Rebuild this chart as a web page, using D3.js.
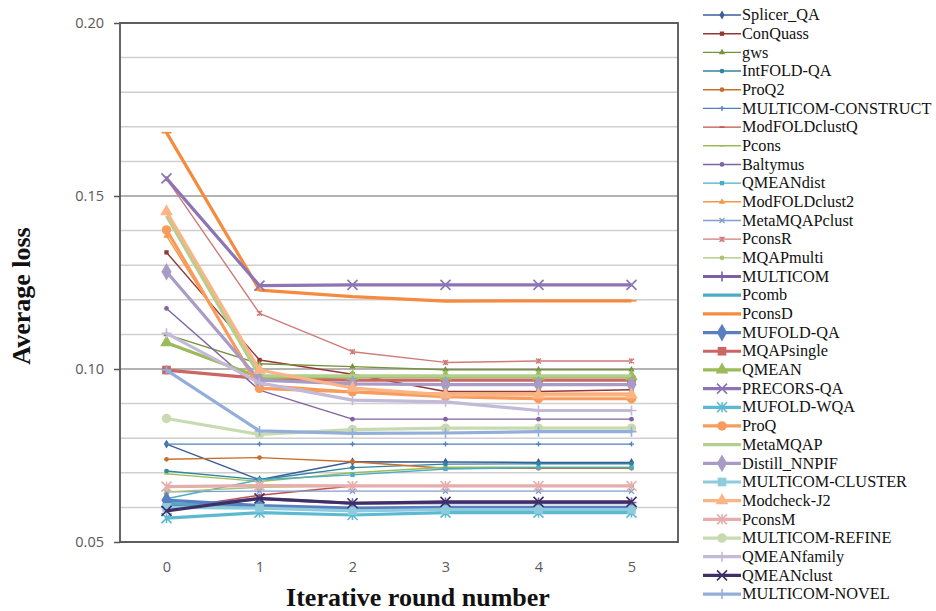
<!DOCTYPE html>
<meta charset="utf-8">
<style>
  body { margin: 0; padding: 0; background: white; }
  svg { background: white; }
  .legend text { font-family: "Liberation Serif", "Times New Roman", serif; font-size: 16.3px; fill: #111; }
  .tick text { font-family: "Open Sans", sans-serif; font-size: 14.5px; fill: #595959; }
  .title { font-family: "Liberation Serif", "Times New Roman", serif; font-size: 26px; font-weight: bold; fill: #111; }
</style>
<script src="https://cdn.jsdelivr.net/npm/d3@7"></script>
<svg id="vis"></svg>
<script>

var width = 936, height = 611;

// rounds on the x axis
const rounds = [0, 1, 2, 3, 4, 5];

// method names, in legend order
const names = ['Splicer_QA','ConQuass','gws','IntFOLD-QA','ProQ2','MULTICOM-CONSTRUCT','ModFOLDclustQ','Pcons',
  'Baltymus','QMEANdist','ModFOLDclust2','MetaMQAPclust','PconsR','MQAPmulti','MULTICOM','Pcomb','PconsD',
  'MUFOLD-QA','MQAPsingle','QMEAN','PRECORS-QA','MUFOLD-WQA','ProQ','MetaMQAP','Distill_NNPIF',
  'MULTICOM-CLUSTER','Modcheck-J2','PconsM','MULTICOM-REFINE','QMEANfamily','QMEANclust','MULTICOM-NOVEL'];

// average loss per round
const losses = [
  [0.0783, 0.0680, 0.0732, 0.0731, 0.0730, 0.0730], // Splicer_QA
  [0.1337, 0.1026, 0.0985, 0.0935, 0.0935, 0.0940], // ConQuass
  [0.1100, 0.1015, 0.1007, 0.0998, 0.0998, 0.0998], // gws
  [0.0705, 0.0680, 0.0715, 0.0725, 0.0726, 0.0726], // IntFOLD-QA
  [0.0739, 0.0744, 0.0732, 0.0713, 0.0713, 0.0713], // ProQ2
  [0.0783, 0.0783, 0.0783, 0.0783, 0.0783, 0.0783], // MULTICOM-CONSTRUCT
  [0.0595, 0.0635, 0.0662, 0.0662, 0.0662, 0.0662], // ModFOLDclustQ
  [0.0697, 0.0675, 0.0700, 0.0716, 0.0716, 0.0716], // Pcons
  [0.1175, 0.0939, 0.0855, 0.0855, 0.0855, 0.0855], // Baltymus
  [0.0625, 0.0680, 0.0694, 0.0711, 0.0715, 0.0715], // QMEANdist
  [0.1385, 0.0955, 0.0935, 0.0930, 0.0930, 0.0930], // ModFOLDclust2
  [0.0645, 0.0647, 0.0647, 0.0647, 0.0647, 0.0647], // MetaMQAPclust
  [0.1550, 0.1161, 0.1050, 0.1019, 0.1023, 0.1023], // PconsR
  [0.0645, 0.0658, 0.0662, 0.0662, 0.0662, 0.0662], // MQAPmulti
  [0.0600, 0.0625, 0.0612, 0.0614, 0.0614, 0.0614], // MULTICOM
  [0.0612, 0.0600, 0.0594, 0.0597, 0.0597, 0.0597], // Pcomb
  [0.1683, 0.1228, 0.1209, 0.1196, 0.1197, 0.1197], // PconsD
  [0.0621, 0.0605, 0.0598, 0.0600, 0.0600, 0.0600], // MUFOLD-QA
  [0.0997, 0.0973, 0.0968, 0.0968, 0.0968, 0.0968], // MQAPsingle
  [0.1076, 0.0976, 0.0978, 0.0978, 0.0978, 0.0978], // QMEAN
  [0.1551, 0.1241, 0.1243, 0.1243, 0.1243, 0.1243], // PRECORS-QA
  [0.0569, 0.0585, 0.0578, 0.0585, 0.0585, 0.0585], // MUFOLD-WQA
  [0.1402, 0.0944, 0.0934, 0.0920, 0.0914, 0.0914], // ProQ
  [0.1442, 0.0980, 0.0980, 0.0980, 0.0980, 0.0980], // MetaMQAP
  [0.1281, 0.0968, 0.0957, 0.0955, 0.0955, 0.0955], // Distill_NNPIF
  [0.0600, 0.0598, 0.0590, 0.0594, 0.0594, 0.0594], // MULTICOM-CLUSTER
  [0.1455, 0.0997, 0.0945, 0.0925, 0.0925, 0.0925], // Modcheck-J2
  [0.0660, 0.0663, 0.0662, 0.0662, 0.0662, 0.0662], // PconsM
  [0.0857, 0.0811, 0.0825, 0.0829, 0.0829, 0.0829], // MULTICOM-REFINE
  [0.1103, 0.0960, 0.0910, 0.0905, 0.0880, 0.0880], // QMEANfamily
  [0.0590, 0.0626, 0.0612, 0.0616, 0.0616, 0.0616], // QMEANclust
  [0.0997, 0.0821, 0.0814, 0.0815, 0.0819, 0.0819]  // MULTICOM-NOVEL
];

const yTicks = [0.05, 0.10, 0.15, 0.20];

// styles
const colors = ['#3b5e9a','#943634','#76923c','#31859c','#c96e2b','#4f81bd','#c0504d','#9bbb59',
  '#8064a2','#4bacc6','#f79646','#7f9fcf','#cf7b79','#a9c574','#7c5fa6','#4bacc6','#f58b3f',
  '#5a7fc0','#cc6662','#9bbb59','#8c74b5','#5cb9d2','#f99b5b','#b1cf8d','#a89bc6',
  '#8ecbdd','#fbb486','#e5aead','#c8dab0','#c3b9d8','#3e2f66','#94aedb'];
const marks = ['diamond','square','triangle','circle','circle','plus','dash','dash',
  'circle','square','triangle','x','asterisk','circle','plus','none','dash',
  'diamond','square','triangle','x','asterisk','circle','none','diamond',
  'square','triangle','asterisk','circle','plus','x','plus'];

var svg = d3.select("svg").attr("width", width).attr("height", height);

var x = d3.scalePoint().domain(rounds).range([120, 678]).padding(0.5);
var y = d3.scaleLinear().domain([0.05, 0.20]).range([542, 23]);

// gridlines every 0.01
var grid = d3.range(5, 21).map(d => d / 100);
svg.append("g").selectAll("line")
  .data(grid)
  .enter().append("line")
    .attr("x1", 120).attr("x2", 678)
    .attr("y1", d => y(d)).attr("y2", d => y(d))
    .attr("stroke", (d, i) => i % 5 == 0 ? "#9a9a9a" : "#cfcfcf")
    .attr("stroke-width", 1.5);

// y axis
var yAxis = svg.append("g")
  .attr("transform", "translate(120,0)")
  .call(d3.axisLeft(y).tickValues(yTicks).tickFormat(d3.format(".2f")).tickSize(6).tickPadding(10));
yAxis.select(".domain").remove();
yAxis.selectAll(".tick line").attr("stroke", "#555").attr("stroke-width", 1.5);

// x axis labels
var xAxis = svg.append("g")
  .attr("transform", "translate(0,542)")
  .call(d3.axisBottom(x).tickSize(0).tickPadding(20));
xAxis.select(".domain").remove();

// plot border
svg.append("rect")
  .attr("x", 120).attr("y", 23)
  .attr("width", 558).attr("height", 519)
  .attr("fill", "none")
  .attr("stroke", "#555")
  .attr("stroke-width", 1.8);

function isThick(i) { return i >= 14; }

function markerPath(type, size) {
  var s = size;
  switch (type) {
    case 'diamond': return d3.symbol(d3.symbolDiamond, s * s * 0.9)();
    case 'square': return d3.symbol(d3.symbolSquare, s * s * 0.75)();
    case 'triangle': return d3.symbol(d3.symbolTriangle, s * s * 0.7)();
    case 'circle': return d3.symbol(d3.symbolCircle, s * s * 0.7)();
    case 'plus': return "M0," + (-s / 2) + "V" + (s / 2) + "M" + (-s / 2) + ",0H" + (s / 2);
    case 'x': return "M" + (-s / 2) + "," + (-s / 2) + "L" + (s / 2) + "," + (s / 2) +
                     "M" + (-s / 2) + "," + (s / 2) + "L" + (s / 2) + "," + (-s / 2);
    case 'asterisk': return "M0," + (-s / 2) + "V" + (s / 2) +
                     "M" + (-s / 2) + "," + (-s / 2) + "L" + (s / 2) + "," + (s / 2) +
                     "M" + (-s / 2) + "," + (s / 2) + "L" + (s / 2) + "," + (-s / 2);
    case 'dash': return "M" + (-s / 2) + ",0H" + (s / 2);
  }
  return "";
}
function isStroked(type) { return type == 'plus' || type == 'x' || type == 'asterisk' || type == 'dash'; }

function drawMarker(g, type, color, size, thick) {
  if (type == 'none') return;
  var p = g.append("path").attr("d", markerPath(type, size));
  if (isStroked(type)) p.attr("fill", "none").attr("stroke", color).attr("stroke-width", thick ? 1.6 : 1.4);
  else p.attr("fill", color);
}

var line = d3.line()
  .x((d, i) => x(rounds[i]))
  .y(d => y(d));

var series = svg.append("g");
losses.forEach(function (vals, i) {
  var thick = isThick(i);
  series.append("path")
    .attr("d", line(vals))
    .attr("fill", "none")
    .attr("stroke", colors[i])
    .attr("stroke-width", thick ? 3.2 : 1.4)
    .attr("stroke-linejoin", "round");
  vals.forEach(function (v, j) {
    var g = series.append("g").attr("transform", "translate(" + x(rounds[j]) + "," + y(v) + ")");
    drawMarker(g, marks[i], colors[i], thick ? 10 : 5, thick);
  });
});

// legend
var legend = svg.append("g").attr("class", "legend");
names.forEach(function (name, i) {
  var ly = 15 + i * 18.68;
  var g = legend.append("g").attr("transform", "translate(0," + ly + ")");
  var thick = isThick(i);
  g.append("line")
    .attr("x1", 703).attr("x2", 741)
    .attr("stroke", colors[i])
    .attr("stroke-width", thick ? 3.2 : 1.4);
  var m = g.append("g").attr("transform", "translate(722,0)");
  drawMarker(m, marks[i], colors[i], thick ? 10 : 5, thick);
  g.append("text")
    .attr("x", 742)
    .attr("dy", "0.32em")
    .text(name);
});

// axis titles
svg.append("text")
  .attr("class", "title")
  .attr("x", 418).attr("y", 606)
  .attr("text-anchor", "middle")
  .text("Iterative round number");

svg.append("text")
  .attr("class", "title")
  .attr("transform", "translate(30,296) rotate(-90)")
  .attr("text-anchor", "middle")
  .text("Average loss");

</script>
